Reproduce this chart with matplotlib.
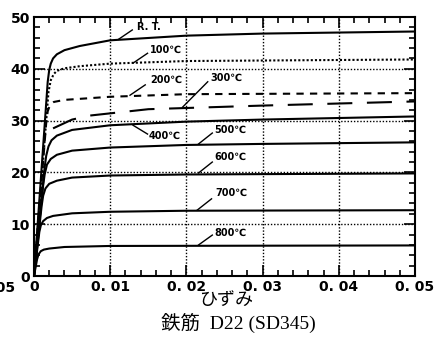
import matplotlib.pyplot as plt
from matplotlib.ticker import MultipleLocator

plt.rcParams['font.family'] = ['DejaVu Sans', 'Noto Sans CJK JP']

## stress-strain curves (strain, stress)
rt_strain = [0, 0.0018, 0.002, 0.0022, 0.0025, 0.003, 0.004, 0.006, 0.01, 0.02, 0.03, 0.04, 0.05]
rt_stress = [0, 37.5, 39.8, 41.0, 42.0, 42.8, 43.6, 44.4, 45.5, 46.4, 46.8, 47.0, 47.2]

t100_strain = [0, 0.0019, 0.0022, 0.0026, 0.003, 0.004, 0.006, 0.01, 0.02, 0.05]
t100_stress = [0, 35.5, 37.8, 39.0, 39.6, 40.1, 40.5, 41.0, 41.5, 41.8]

t200_strain = [0, 0.0016, 0.0018, 0.0021, 0.0026, 0.004, 0.01, 0.02, 0.05]
t200_stress = [0, 29.5, 31.8, 33.0, 33.6, 34.0, 34.6, 35.1, 35.3]

t300_strain = [0.0025, 0.005, 0.0075, 0.015, 0.03, 0.05]
t300_stress = [28.5, 30.2, 31.0, 32.2, 32.9, 33.7]

t400_strain = [0, 0.0014, 0.0016, 0.0019, 0.0023, 0.003, 0.005, 0.01, 0.02, 0.03, 0.05]
t400_stress = [0, 21.0, 23.2, 25.0, 26.2, 27.1, 28.2, 29.1, 29.8, 30.2, 30.8]

t500_strain = [0, 0.0012, 0.0014, 0.0017, 0.0022, 0.003, 0.005, 0.01, 0.02, 0.03, 0.05]
t500_stress = [0, 17.5, 19.6, 21.5, 22.6, 23.4, 24.2, 24.8, 25.3, 25.5, 25.8]

t600_strain = [0, 0.001, 0.0012, 0.0015, 0.002, 0.003, 0.005, 0.01, 0.02, 0.05]
t600_stress = [0, 13.5, 15.5, 16.9, 17.8, 18.4, 19.0, 19.4, 19.6, 19.8]

t700_strain = [0, 0.0007, 0.0009, 0.0012, 0.0017, 0.0025, 0.005, 0.01, 0.02, 0.05]
t700_stress = [0, 8.5, 9.8, 10.6, 11.2, 11.6, 12.1, 12.4, 12.6, 12.7]

t800_strain = [0, 0.0004, 0.0006, 0.0009, 0.0013, 0.002, 0.004, 0.01, 0.05]
t800_stress = [0, 3.2, 4.2, 4.8, 5.1, 5.3, 5.6, 5.8, 5.9]

x_ticks = [0, 0.01, 0.02, 0.03, 0.04, 0.05]
x_tick_labels = ['0', '0. 01', '0. 02', '0. 03', '0. 04', '0. 05']
y_ticks = [0, 10, 20, 30, 40, 50]

fig = plt.figure(figsize=(4.42, 3.45), dpi=100)
ax = fig.add_axes([34/442, 69/345, 381/442, 259/345])

## grid
for gx in [0.01, 0.02, 0.03, 0.04]:
    ax.axvline(gx, color='k', lw=1.0, ls=(0, (1, 1.3)), zorder=1)
for gy in [10, 20, 30, 40]:
    ax.axhline(gy, color='k', lw=1.0, ls=(0, (1, 1.3)), zorder=1)

lw = 1.5
ax.plot(rt_strain, rt_stress, color='k', lw=lw)
ax.plot(t100_strain, t100_stress, color='k', lw=lw, ls=(0, (1, 1)))
ax.plot(t200_strain, t200_stress, color='k', lw=lw, ls=(0, (3.5, 3)))
ax.plot(t300_strain, t300_stress, color='k', lw=lw, ls=(0, (12, 7)))
ax.plot(t400_strain, t400_stress, color='k', lw=lw)
ax.plot(t500_strain, t500_stress, color='k', lw=lw)
ax.plot(t600_strain, t600_stress, color='k', lw=lw)
ax.plot(t700_strain, t700_stress, color='k', lw=lw)
ax.plot(t800_strain, t800_stress, color='k', lw=lw)

## curve labels with leader lines
lab_kw = dict(fontsize=7, fontweight='bold', va='center', ha='left')
leaders = [
    ('R. T.', (0.0111, 45.7), (0.0129, 47.5), (0.0135, 48.0)),
    ('100℃', (0.0130, 41.1), (0.0149, 43.0), (0.0152, 43.6)),
    ('200℃', (0.0126, 34.9), (0.0146, 36.9), (0.0152, 37.8)),
    ('300℃', (0.0195, 32.6), (0.0228, 37.5), (0.0232, 38.2)),
    ('400℃', (0.0130, 29.1), (0.0149, 27.4), (0.0151, 27.0)),
    ('500℃', (0.0216, 25.5), (0.0234, 27.6), (0.0236, 28.2)),
    ('600℃', (0.0216, 19.9), (0.0234, 22.0), (0.0237, 23.0)),
    ('700℃', (0.0214, 12.7), (0.0233, 14.9), (0.0238, 16.0)),
    ('800℃', (0.0216, 6.0), (0.0234, 7.9), (0.0237, 8.4)),
]
for txt, p0, p1, pt in leaders:
    ax.plot([p0[0], p1[0]], [p0[1], p1[1]], color='k', lw=1.0)
    ax.text(pt[0], pt[1], txt, **lab_kw)

ax.set_xlim(0, 0.05)
ax.set_ylim(0, 50)
ax.set_xticks(x_ticks)
ax.set_xticklabels(x_tick_labels)
ax.set_yticks(y_ticks)
ax.xaxis.set_minor_locator(MultipleLocator(0.002))
ax.yaxis.set_minor_locator(MultipleLocator(2))
ax.tick_params(which='both', direction='in', top=True, right=True, width=1.2)
ax.tick_params(which='major', length=8, labelsize=10, pad=3)
ax.tick_params(which='minor', length=4)
for lab in ax.get_xticklabels() + ax.get_yticklabels():
    lab.set_fontweight('bold')
for s in ax.spines.values():
    s.set_linewidth(1.5)

## partial label from the neighbouring panel, cut at the left edge as in the source
fig.text(15/442, 1 - 288/345, '0. 05', ha='right', va='center',
         fontsize=10, fontweight='bold')
fig.text(226/442, 1 - 300/345, 'ひずみ', ha='center', va='center',
         fontsize=13, family=['Noto Sans CJK JP'])
fig.text(238/442, 1 - 323/345, '鉄筋  D22 (SD345)', ha='center', va='center',
         fontsize=14, family=['Liberation Serif', 'Noto Sans CJK JP'])

fig.savefig('out.png', dpi=100)
